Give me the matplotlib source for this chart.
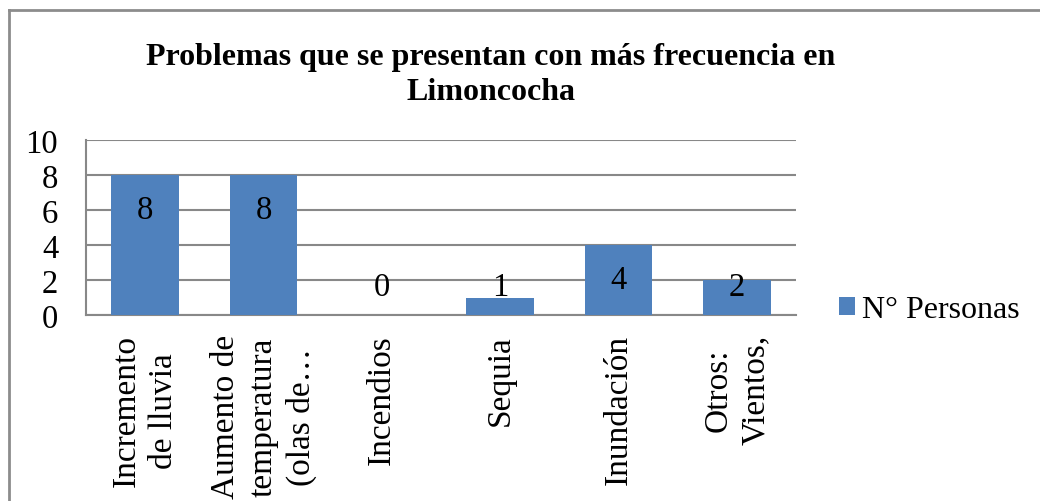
import matplotlib
matplotlib.use("Agg")
import matplotlib.pyplot as plt
from matplotlib.lines import Line2D
from matplotlib.patches import Patch

# ------------------------------------------------------------
# DATA
# ------------------------------------------------------------
categories = [
    "Incremento\nde lluvia",
    "Aumento de\ntemperatura\n(olas de…",
    "Incendios",
    "Sequia",
    "Inundación",
    "Otros:\nVientos,",
]
personas = [8, 8, 0, 1, 4, 2]
yticks = [0, 2, 4, 6, 8, 10]

TITLE = "Problemas que se presentan con más frecuencia en\nLimoncocha"
LEGEND_LABEL = "N° Personas"

BAR_COLOR = "#4F81BD"
GRID_COLOR = "#888888"
FONT = "Liberation Serif"

W, H = 1040, 502


def px_x(x):
    return x / W


def px_y(y):
    return 1 - y / H


def main():
    plt.rcParams["font.family"] = [FONT, "DejaVu Serif"]

    fig = plt.figure(figsize=(W / 100, H / 100), dpi=100)
    ax = fig.add_axes([px_x(86), px_y(316), px_x(796) - px_x(86), px_y(141) - px_y(316)])

    x = list(range(len(categories)))
    ax.bar(x, personas, width=0.57, color=BAR_COLOR, zorder=3)

    ax.set_xlim(-0.5, len(categories) - 0.5)
    ax.set_ylim(0, 10)
    ax.set_yticks(yticks)
    ax.set_yticklabels([str(t) for t in yticks], fontsize=23.5)
    ax.yaxis.grid(True, color=GRID_COLOR, linewidth=1.5, zorder=0)
    ax.tick_params(axis="both", length=0)
    ax.tick_params(axis="y", pad=20)

    for s in ["top", "right"]:
        ax.spines[s].set_visible(False)
    for s in ["left", "bottom"]:
        ax.spines[s].set_color(GRID_COLOR)
        ax.spines[s].set_linewidth(1.5)

    # category labels, rotated
    ax.set_xticks(x)
    ax.set_xticklabels([])
    for xi, lab in zip(x, categories):
        ax.annotate(lab, xy=(xi, 0), xycoords="data", xytext=(0, -19),
                    textcoords="offset pixels", rotation=90, ha="center", va="top",
                    multialignment="center", fontsize=24, linespacing=1.3,
                    annotation_clip=False)

    # data labels (inside end, kept within plot)
    for xi, v in zip(x, personas):
        ax.text(xi, max(v - 2.0, 1.6), str(v), ha="center", va="center",
                fontsize=23.5, zorder=4)

    # title
    fig.text(px_x(491), px_y(75), TITLE, ha="center", va="center",
             fontsize=23, fontweight="bold", linespacing=1.31)

    # legend
    handle = Patch(facecolor=BAR_COLOR, edgecolor="none")
    fig.legend([handle], [LEGEND_LABEL], loc="center left",
               bbox_to_anchor=(px_x(839), px_y(311)), frameon=False,
               fontsize=23, handlelength=0.5, handleheight=0.5,
               handletextpad=0.22, borderpad=0, borderaxespad=0)

    # chart border (left and top visible)
    fig.add_artist(Line2D([px_x(9), px_x(9)], [px_y(11), 0], color="#8c8c8c",
                          linewidth=2, transform=fig.transFigure))
    fig.add_artist(Line2D([px_x(9), 1], [px_y(11), px_y(11)], color="#8c8c8c",
                          linewidth=2, transform=fig.transFigure))

    fig.savefig("out.png", dpi=100)
    plt.close(fig)


if __name__ == "__main__":
    main()
